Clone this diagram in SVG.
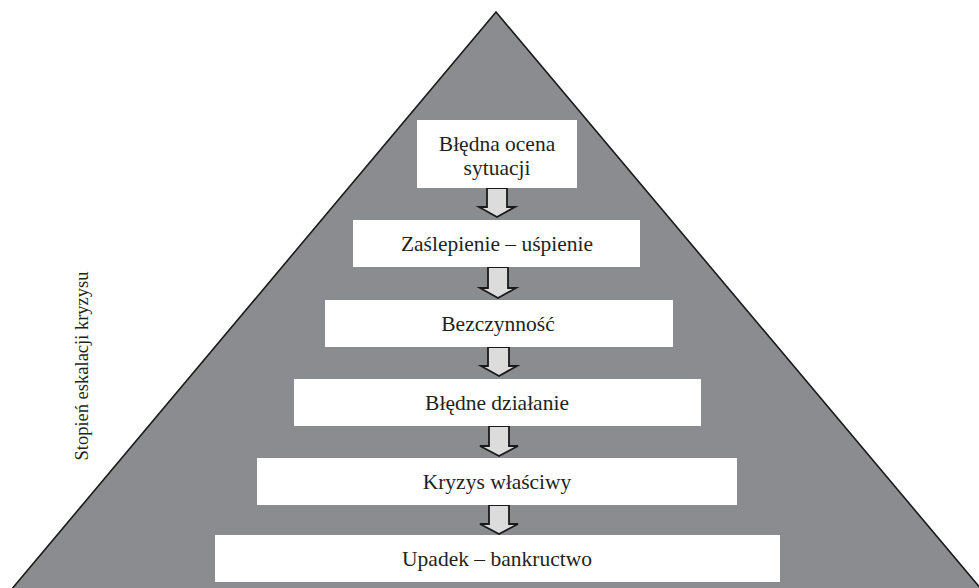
<svg xmlns="http://www.w3.org/2000/svg" width="979" height="588" viewBox="0 0 979 588">
<style>
  .tri{fill:#8b8c90;stroke:#1a1a1a;stroke-width:1.6}
  .box{fill:#ffffff;stroke:none}
  .lbl{fill:#231f20;text-anchor:middle}
  .arr{fill:#dcdcdc;stroke:#1a1a1a;stroke-width:1.8;stroke-linejoin:miter}
</style>
<rect width="979" height="588" fill="#ffffff"/>
<polygon class="tri" points="496,12 11,590 982,590"/>
<g font-family="'Liberation Serif', 'Times New Roman', serif" font-size="21.5">
<text class="lbl" font-size="18.5" transform="translate(88,366) rotate(-90)">Stopień eskalacji kryzysu</text>
<g id="connectors">
  <path class="arr" d="M487,188 V207 H479 L497,217 L515,207 H507 V188 Z"/>
  <path class="arr" d="M488,267 V288 H480 L498,298 L516,288 H508 V267 Z"/>
  <path class="arr" d="M488,347 V366 H481 L499,376 L517,366 H509 V347 Z"/>
  <path class="arr" d="M489,426 V446 H480 L499,456 L518,446 H509 V426 Z"/>
  <path class="arr" d="M489,505 V524 H480 L499,534 L518,524 H509 V505 Z"/>
</g>
<g id="n1">
  <rect class="box" x="417" y="120" width="160" height="68"/>
  <text class="lbl" x="497" y="151">Błędna ocena</text>
  <text class="lbl" x="497" y="175">sytuacji</text>
</g>
<g id="n2">
  <rect class="box" x="353" y="220" width="287" height="47"/>
  <text class="lbl" x="497" y="251">Zaślepienie – uśpienie</text>
</g>
<g id="n3">
  <rect class="box" x="325" y="300" width="348" height="47"/>
  <text class="lbl" x="498" y="331">Bezczynność</text>
</g>
<g id="n4">
  <rect class="box" x="294" y="379" width="407" height="47"/>
  <text class="lbl" x="497" y="410">Błędne działanie</text>
</g>
<g id="n5">
  <rect class="box" x="257" y="458" width="480" height="47"/>
  <text class="lbl" x="497" y="489">Kryzys właściwy</text>
</g>
<g id="n6">
  <rect class="box" x="215" y="535" width="565" height="47"/>
  <text class="lbl" x="497" y="566">Upadek – bankructwo</text>
</g>
</g>
</svg>
